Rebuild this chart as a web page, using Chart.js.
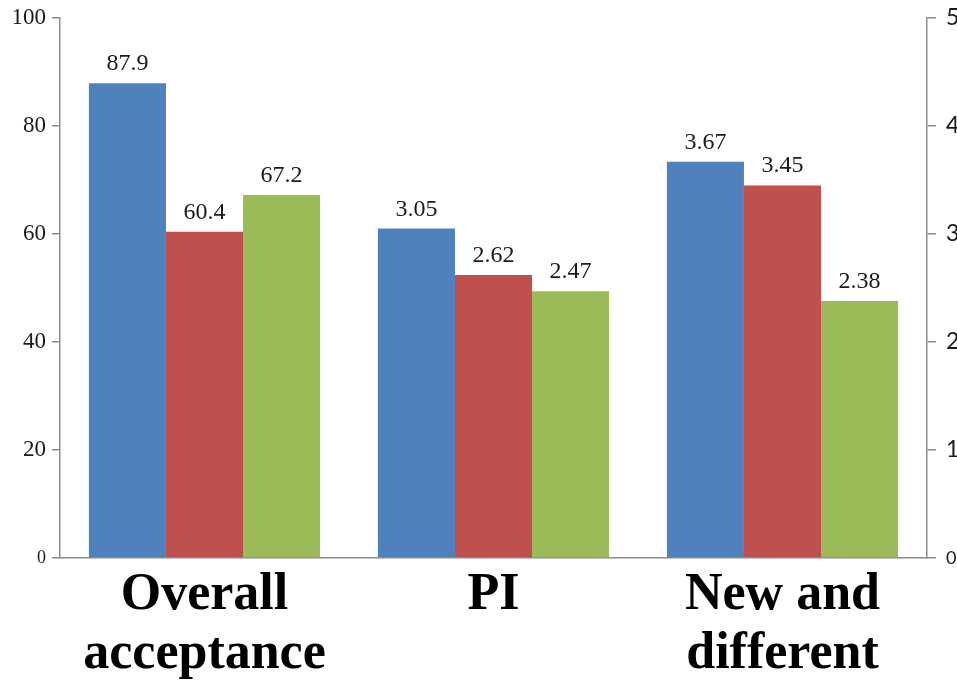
<!DOCTYPE html>
<html>
<head>
<meta charset="utf-8">
<script src="https://cdn.jsdelivr.net/npm/chart.js@4.4.1/dist/chart.umd.min.js"></script>
<style>
  html, body { margin: 0; padding: 0; background: #ffffff; }
  #wrap { width: 957px; height: 682px; position: relative; }
</style>
</head>
<body>
<div id="wrap"><canvas id="c" width="957" height="682"></canvas></div>
<script>
// ---- data ----
const categories = [['Overall', 'acceptance'], 'PI', ['New and', 'different']];
const categoryAxis = ['y', 'y1', 'y1'];          // which value axis each category uses
const seriesNames = ['Series 1', 'Series 2', 'Series 3'];
const seriesBlue  = [87.9, 3.05, 3.67];
const seriesRed   = [60.4, 2.62, 3.45];
const seriesGreen = [67.2, 2.47, 2.38];
const leftTicks  = [0, 20, 40, 60, 80, 100];
const rightTicks = [0, 1, 2, 3, 4, 5];

const seriesValues = [seriesBlue, seriesRed, seriesGreen];
const seriesColors = ['#4F81BD', '#C0504D', '#9BBB59'];

const datasets = [];
seriesValues.forEach((vals, s) => {
  ['y', 'y1'].forEach(axis => {
    datasets.push({
      label: seriesNames[s],
      data: vals.map((v, i) => categoryAxis[i] === axis ? v : null),
      yAxisID: axis,
      stack: 'slot' + s,
      backgroundColor: seriesColors[s],
      borderWidth: 0,
      categoryPercentage: 0.8,
      barPercentage: 1.0
    });
  });
});

const valueLabels = {
  id: 'valueLabels',
  afterDatasetsDraw(chart) {
    const ctx = chart.ctx;
    ctx.save();
    ctx.font = '24px "Liberation Serif", "DejaVu Serif", serif';
    ctx.fillStyle = '#1a1a1a';
    ctx.textAlign = 'center';
    ctx.textBaseline = 'alphabetic';
    chart.data.datasets.forEach((ds, di) => {
      const meta = chart.getDatasetMeta(di);
      meta.data.forEach((el, i) => {
        const v = ds.data[i];
        if (v === null || v === undefined) return;
        ctx.fillText(String(v), el.x, el.y - 13);
      });
    });
    ctx.restore();
  }
};

const tickFont = (family) => (c) => ({
  family: family,
  size: (c.tick && c.tick.value === 0) ? 18 : 23
});

new Chart(document.getElementById('c'), {
  type: 'bar',
  data: { labels: categories, datasets: datasets },
  options: {
    responsive: false,
    animation: false,
    layout: { padding: { top: 18, left: 0, right: 0, bottom: 0 } },
    plugins: { legend: { display: false }, tooltip: { enabled: false } },
    scales: {
      x: {
        grid: { display: false },
        border: { color: '#8c8c8c', width: 1.5 },
        ticks: {
          color: '#000000',
          padding: 0,
          font: { family: '"Liberation Serif", "DejaVu Serif", serif', size: 52, weight: 'bold', lineHeight: 1.13 }
        },
        afterFit(scale) { scale.height = 124; }
      },
      y: {
        position: 'left',
        min: 0, max: 100,
        afterBuildTicks(scale) { scale.ticks = leftTicks.map(v => ({ value: v })); },
        grid: { drawOnChartArea: false, drawTicks: true, tickLength: 8, color: '#8c8c8c', lineWidth: 1.5 },
        border: { color: '#8c8c8c', width: 1.5 },
        ticks: {
          color: '#1a1a1a',
          padding: 6,
          font: tickFont('"Liberation Serif", "DejaVu Serif", serif')
        },
        afterFit(scale) { scale.width = 60; scale.paddingTop = 0; scale.paddingBottom = 0; }
      },
      y1: {
        position: 'right',
        min: 0, max: 5,
        afterBuildTicks(scale) { scale.ticks = rightTicks.map(v => ({ value: v })); },
        grid: { drawOnChartArea: false, drawTicks: true, tickLength: 9, color: '#8c8c8c', lineWidth: 1.5 },
        border: { color: '#8c8c8c', width: 1.5 },
        ticks: {
          color: '#1a1a1a',
          padding: 10,
          font: tickFont('Lato, "Open Sans", sans-serif')
        },
        afterFit(scale) { scale.width = 30; scale.paddingTop = 0; scale.paddingBottom = 0; }
      }
    }
  },
  plugins: [valueLabels]
});
</script>
</body>
</html>
